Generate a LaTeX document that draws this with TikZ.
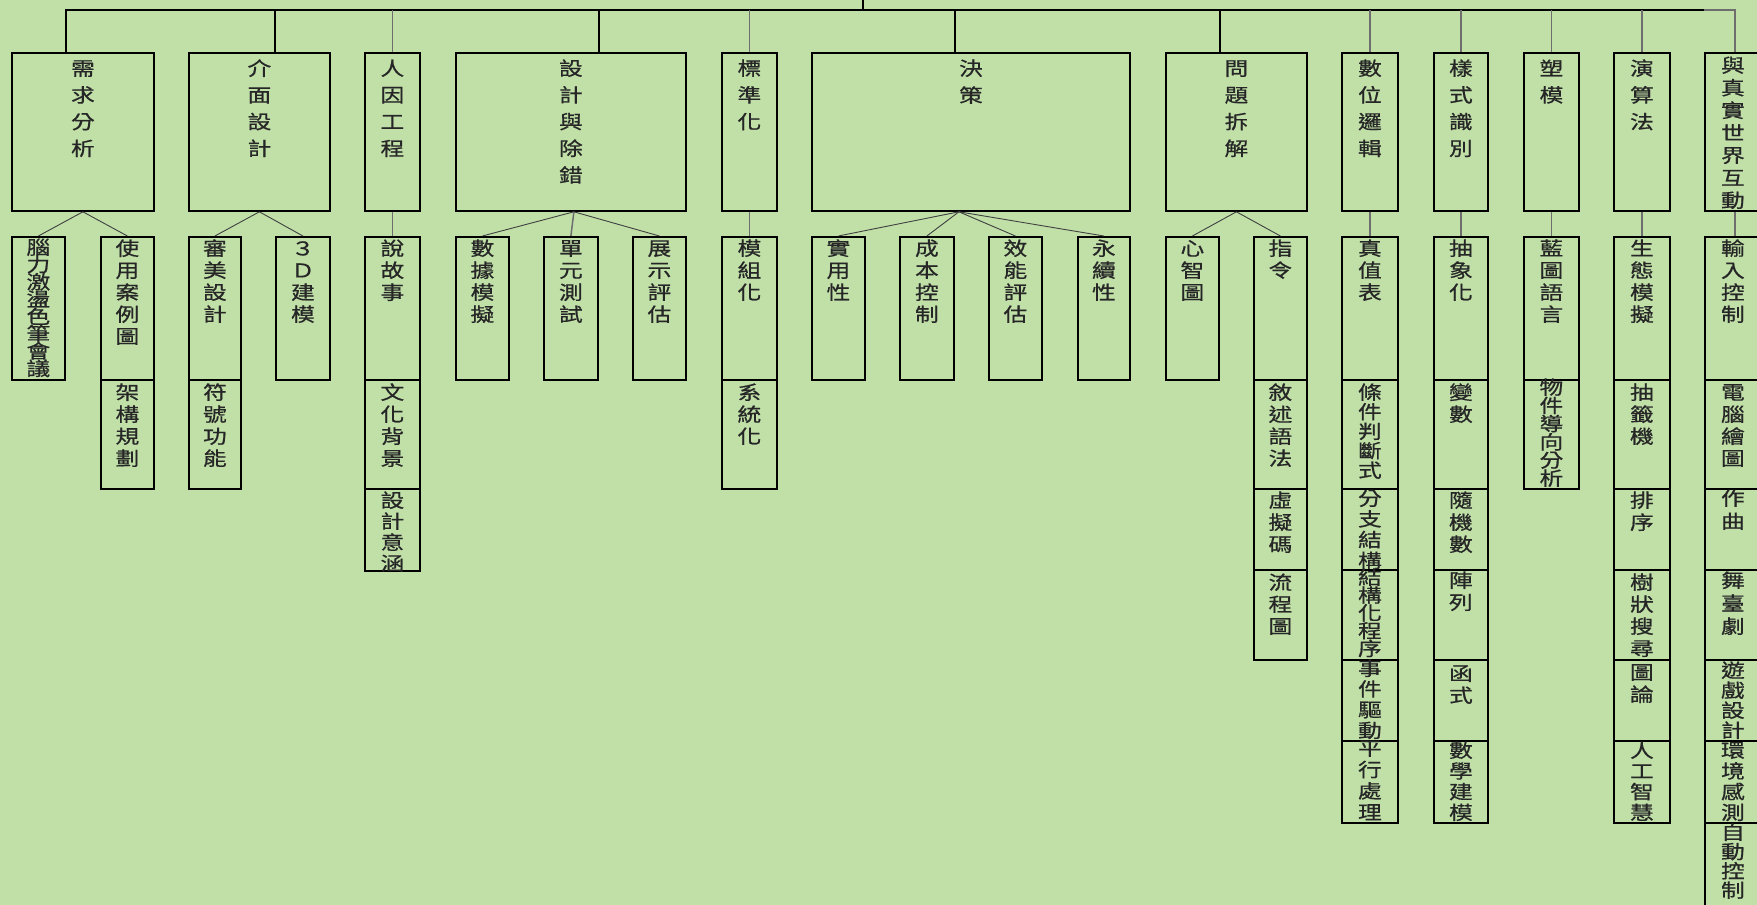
\documentclass[tikz,border=0pt]{standalone}
\usepackage{fontspec}
\usepackage{graphicx}
\newfontfamily\cjk[FakeBold=0.6]{Noto Sans CJK TC}
\definecolor{bg}{RGB}{192,224,168}
\definecolor{lgray}{RGB}{110,110,110}
\newcommand\cjkstrut{\vrule height 0.88em depth 0.12em width 0pt}
\newcommand\V[2]{\scalebox{1.25}[1]{\vbox{\baselineskip=#1pt\lineskiplimit=-100pt\lineskip=0pt\halign{\hfil##\hfil\cjkstrut\cr#2\crcr}}}}
% name, x, y, w, h, first-char centre offset, spacing, text
\newcommand\mybox[8]{%
  \node[box, minimum width=#4pt, minimum height=#5pt, anchor=north west] (#1) at (#2,#3) {};
  \node[vt, anchor=north] (#1t) at ([yshift={-(#6-9.5)*1pt}]#1.north) {\V{#7}{#8}};
}
\tikzset{
  box/.style={draw=black, line width=1.8pt, inner sep=0pt, rectangle},
  vt/.style={inner sep=0pt, font=\cjk\fontsize{19pt}{19pt}\selectfont, text=black!85},
  busline/.style={draw=black, line width=2.2pt},
  dropk/.style={draw=black, line width=1.8pt},
  dropg/.style={draw=lgray, line width=1.5pt},
  kid/.style={draw=black!75, line width=0.9pt},
}
\begin{document}
\begin{tikzpicture}[x=1pt,y=-1pt]
\fill[bg] (0,0) rectangle (1757,905);
\useasboundingbox (0,0) rectangle (1757,905);

% top level
\mybox{need}{11}{52}{142}{158}{16}{26.7}{需\cr 求\cr 分\cr 析}
\mybox{iface}{188}{52}{141}{158}{16}{26.7}{介\cr 面\cr 設\cr 計}
\mybox{human}{364}{52}{55}{158}{16}{26.7}{人\cr 因\cr 工\cr 程}
\mybox{debug}{455}{52}{230}{158}{16}{26.7}{設\cr 計\cr 與\cr 除\cr 錯}
\mybox{std}{721}{52}{55}{158}{16}{26.7}{標\cr 準\cr 化}
\mybox{decide}{811}{52}{318}{158}{16}{27}{決\cr 策}
\mybox{prob}{1165}{52}{141}{158}{16}{26.7}{問\cr 題\cr 拆\cr 解}
\mybox{digital}{1341}{52}{56}{158}{16}{26.7}{數\cr 位\cr 邏\cr 輯}
\mybox{pattern}{1433}{52}{54}{158}{16}{26.7}{樣\cr 式\cr 識\cr 別}
\mybox{model}{1523}{52}{55}{158}{16}{26.7}{塑\cr 模}
\mybox{algo}{1613}{52}{56}{158}{16}{26.7}{演\cr 算\cr 法}
\mybox{real}{1704}{52}{56}{158}{13}{22.5}{與\cr 真\cr 實\cr 世\cr 界\cr 互\cr 動}

% row 1
\mybox{brain}{11}{236}{53}{143}{11}{17.3}{腦\cr 力\cr 激\cr 盪\cr 色\cr 筆\cr 會\cr 議}
\mybox{usecase}{100}{236}{53}{143}{12}{22}{使\cr 用\cr 案\cr 例\cr 圖}
\mybox{aesth}{188}{236}{52}{143}{12}{22}{審\cr 美\cr 設\cr 計}
\mybox{mthreed}{275}{236}{54}{143}{12}{22}{３\cr Ｄ\cr 建\cr 模}
\mybox{story}{364}{236}{55}{143}{12}{22}{說\cr 故\cr 事}
\mybox{data}{455}{236}{53}{143}{12}{22}{數\cr 據\cr 模\cr 擬}
\mybox{unit}{543}{236}{54}{143}{12}{22}{單\cr 元\cr 測\cr 試}
\mybox{demo}{632}{236}{53}{143}{12}{22}{展\cr 示\cr 評\cr 估}
\mybox{modul}{721}{236}{55}{143}{12}{22}{模\cr 組\cr 化}
\mybox{pract}{811}{236}{53}{143}{12}{22}{實\cr 用\cr 性}
\mybox{cost}{899}{236}{54}{143}{12}{22}{成\cr 本\cr 控\cr 制}
\mybox{perf}{988}{236}{53}{143}{12}{22}{效\cr 能\cr 評\cr 估}
\mybox{sustain}{1077}{236}{52}{143}{12}{22}{永\cr 續\cr 性}
\mybox{mind}{1165}{236}{53}{143}{12}{22}{心\cr 智\cr 圖}
\mybox{instr}{1253}{236}{53}{143}{12}{22}{指\cr 令}
\mybox{truth}{1341}{236}{56}{143}{12}{22}{真\cr 值\cr 表}
\mybox{abstr}{1433}{236}{54}{143}{12}{22}{抽\cr 象\cr 化}
\mybox{blue}{1523}{236}{55}{143}{12}{22}{藍\cr 圖\cr 語\cr 言}
\mybox{eco}{1613}{236}{56}{143}{12}{22}{生\cr 態\cr 模\cr 擬}
\mybox{input}{1704}{236}{56}{143}{12}{22}{輸\cr 入\cr 控\cr 制}

% row 2
\mybox{arch}{100}{379}{53}{109}{13}{22}{架\cr 構\cr 規\cr 劃}
\mybox{symb}{188}{379}{52}{109}{13}{22}{符\cr 號\cr 功\cr 能}
\mybox{culture}{364}{379}{55}{109}{13}{22}{文\cr 化\cr 背\cr 景}
\mybox{system}{721}{379}{55}{109}{13}{22}{系\cr 統\cr 化}
\mybox{syntax}{1253}{379}{53}{109}{13}{22}{敘\cr 述\cr 語\cr 法}
\mybox{cond}{1341}{379}{56}{109}{13}{19.5}{條\cr 件\cr 判\cr 斷\cr 式}
\mybox{var}{1433}{379}{54}{109}{13}{22}{變\cr 數}
\mybox{oop}{1523}{379}{55}{109}{8}{18.2}{物\cr 件\cr 導\cr 向\cr 分\cr 析}
\mybox{lottery}{1613}{379}{56}{109}{13}{22}{抽\cr 籤\cr 機}
\mybox{graphics}{1704}{379}{56}{109}{13}{22}{電\cr 腦\cr 繪\cr 圖}

% row 3
\mybox{design}{364}{488}{55}{82}{12}{21}{設\cr 計\cr 意\cr 涵}
\mybox{pseudo}{1253}{488}{53}{81}{12}{22}{虛\cr 擬\cr 碼}
\mybox{branch}{1341}{488}{56}{81}{10}{20.7}{分\cr 支\cr 結\cr 構}
\mybox{rand}{1433}{488}{54}{81}{12}{22}{隨\cr 機\cr 數}
\mybox{sort}{1613}{488}{56}{81}{12}{22}{排\cr 序}
\mybox{compose}{1704}{488}{56}{81}{10}{23}{作\cr 曲}

% row 4
\mybox{flow}{1253}{569}{53}{90}{13}{22}{流\cr 程\cr 圖}
\mybox{struct}{1341}{569}{56}{90}{8}{17.8}{結\cr 構\cr 化\cr 程\cr 序}
\mybox{array}{1433}{569}{54}{90}{11}{22}{陣\cr 列}
\mybox{tree}{1613}{569}{56}{90}{13}{22}{樹\cr 狀\cr 搜\cr 尋}
\mybox{stage}{1704}{569}{56}{90}{11}{23}{舞\cr 臺\cr 劇}

% row 5
\mybox{event}{1341}{659}{56}{81}{9}{20.7}{事\cr 件\cr 驅\cr 動}
\mybox{func}{1433}{659}{54}{81}{14}{22}{函\cr 式}
\mybox{graph}{1613}{659}{56}{81}{13}{22}{圖\cr 論}
\mybox{game}{1704}{659}{56}{81}{11}{20}{遊\cr 戲\cr 設\cr 計}

% row 6
\mybox{par}{1341}{740}{56}{82}{8}{21.3}{平\cr 行\cr 處\cr 理}
\mybox{mathm}{1433}{740}{54}{82}{10}{20.7}{數\cr 學\cr 建\cr 模}
\mybox{ai}{1613}{740}{56}{82}{10}{20.7}{人\cr 工\cr 智\cr 慧}
\mybox{env}{1704}{740}{56}{82}{10}{20.7}{環\cr 境\cr 感\cr 測}

% row 7
\mybox{auto}{1704}{822}{56}{100}{10}{19.3}{自\cr 動\cr 控\cr 制}

% bus
\coordinate (root) at (863,0);
\coordinate (bus) at (863,10);
\draw[busline] (root) -- (bus);
\draw[busline] (need.north -| brain.east) |- (real.north west |- bus);
\draw[dropg] (real.north west |- bus) -| ([xshift=2pt]real.north);

% drops
\draw[dropk] (iface.north -| mthreed.west) -- (bus -| mthreed.west);
\draw[dropk] (debug.north -| unit.east) -- (bus -| unit.east);
\draw[dropk] (decide.north -| cost.east) -- (bus -| cost.east);
\draw[dropk] (prob.north -| mind.east) -- (bus -| mind.east);
\foreach \n in {human,std,digital,pattern,model,algo}
  \draw[dropg] (\n.north) -- (\n.north |- bus);

% children
\coordinate (dj) at ([xshift=-12pt]decide.south);
\coordinate (dbj) at ([xshift=3pt]debug.south);
\draw[kid] (need.south) -- (brain.north);
\draw[kid] (need.south) -- (usecase.north);
\draw[kid] (iface.south) -- (aesth.north);
\draw[kid] (iface.south) -- (mthreed.north);
\draw[dropg] (human.south) -- (story.north);
\draw[kid] (dbj) -- (data.north);
\draw[dropg] (dbj) -- (unit.north);
\draw[kid] (dbj) -- (demo.north);
\draw[dropg] (std.south) -- (modul.north);
\foreach \c in {pract,cost,perf,sustain}
  \draw[kid] (dj) -- (\c.north);
\draw[kid] (prob.south) -- (mind.north);
\draw[kid] (prob.south) -- (instr.north);
\draw[dropg] (digital.south) -- (truth.north);
\draw[dropg] (pattern.south) -- (abstr.north);
\draw[dropg] (model.south) -- (blue.north);
\draw[dropg] (algo.south) -- (eco.north);
\draw[dropg] ([xshift=2pt]real.south) -- ([xshift=2pt]input.north);
\end{tikzpicture}
\end{document}
